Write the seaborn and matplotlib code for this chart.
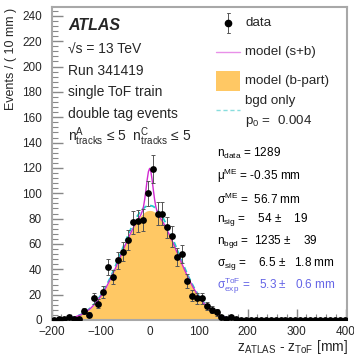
import numpy as np
import matplotlib
matplotlib.use("Agg")
import matplotlib.pyplot as plt
from matplotlib.lines import Line2D
from matplotlib.patches import Rectangle
from matplotlib.ticker import MultipleLocator
import seaborn as sns

# ---------------- data ----------------
counts = [0, 1, 1, 2, 1, 1, 7, 4, 17, 13, 22, 42, 34, 47, 54, 63, 77, 78, 79, 100,
          119, 84, 84, 73, 66, 50, 52, 31, 19, 17, 17, 11, 8, 6, 2, 1, 2, 1,
          0, 0, 0, 0, 0, 0, 0, 0, 0, 0, 0, 0, 0, 0, 0, 0, 0, 0, 0, 0, 0, 0]

x_curve = ([-200, -190, -180, -170, -160, -150, -140, -130, -120, -110, -100, -90, -80, -70, -60, -50, -40, -30]
           + [-25, -20, -17.5, -15, -12.5, -10, -7.5, -5, -2.5, 0, 2.5, 5, 7.5, 10, 12.5, 15, 17.5, 20, 25]
           + [30, 40, 50, 60, 70, 80, 90, 100, 110, 120, 130, 140, 150, 160, 170, 180, 190, 200,
              210, 220, 230, 240, 250, 260, 270, 280, 290, 300, 310, 320, 330, 340, 350, 360, 370, 380, 390, 400])

b_part = ([0.2, 0.3, 0.6, 1.0, 1.7, 2.7, 4.2, 6.4, 9.4, 13.4, 18.6, 24.9, 32.3, 40.7, 49.7, 58.9, 67.6, 75.3]
          + [78.6, 81.3, 82.5, 83.6, 84.4, 85.2, 85.8, 86.2, 86.4, 86.5, 86.4, 86.2, 85.8, 85.2, 84.4, 83.6, 82.5, 81.3, 78.6]
          + [75.3, 67.6, 58.9, 49.7, 40.7, 32.3, 24.9, 18.6, 13.4, 9.4, 6.4, 4.2, 2.7, 1.7, 1.0, 0.6, 0.3, 0.2,
             0.1, 0, 0, 0, 0, 0, 0, 0, 0, 0, 0, 0, 0, 0, 0, 0, 0, 0, 0, 0])

bgd_only = ([0.2, 0.3, 0.6, 1.0, 1.8, 2.8, 4.4, 6.7, 9.8, 14.0, 19.4, 26.0, 33.7, 42.5, 51.9, 61.5, 70.6, 78.6]
            + [82.1, 84.9, 86.1, 87.3, 88.1, 88.9, 89.6, 90.0, 90.2, 90.3, 90.2, 90.0, 89.6, 88.9, 88.1, 87.3, 86.1, 84.9, 82.1]
            + [78.6, 70.6, 61.5, 51.9, 42.5, 33.7, 26.0, 19.4, 14.0, 9.8, 6.7, 4.4, 2.8, 1.8, 1.0, 0.6, 0.3, 0.2,
               0.1, 0, 0, 0, 0, 0, 0, 0, 0, 0, 0, 0, 0, 0, 0, 0, 0, 0, 0, 0])

model_sb = ([0.2, 0.3, 0.6, 1.0, 1.7, 2.7, 4.2, 6.4, 9.4, 13.4, 18.6, 24.9, 32.3, 40.7, 49.7, 58.9, 67.6, 75.3]
            + [78.6, 81.6, 83.4, 85.9, 89.6, 95.4, 102.8, 110.8, 117.1, 119.6, 117.1, 110.8, 102.8, 95.4, 89.6, 85.9, 83.4, 81.6, 78.6]
            + [75.3, 67.6, 58.9, 49.7, 40.7, 32.3, 24.9, 18.6, 13.4, 9.4, 6.4, 4.2, 2.7, 1.7, 1.0, 0.6, 0.3, 0.2,
               0.1, 0, 0, 0, 0, 0, 0, 0, 0, 0, 0, 0, 0, 0, 0, 0, 0, 0, 0, 0])

x_ticks = [-200, -100, 0, 100, 200, 300, 400]
y_ticks = [0, 20, 40, 60, 80, 100, 120, 140, 160, 180, 200, 220, 240]

info_lines = ["√s = 13 TeV", "Run 341419", "single ToF train", "double tag events",
              r"n$^{\mathrm{A}}_{\mathrm{tracks}}$ ≤ 5  n$^{\mathrm{C}}_{\mathrm{tracks}}$ ≤ 5"]
stats_lines = [r"n$_{\mathrm{data}}$ = 1289", r"μ$^{\mathrm{ME}}$ = -0.35 mm", r"σ$^{\mathrm{ME}}$ =  56.7 mm",
               r"n$_{\mathrm{sig}}$ =    54 ±    19", r"n$_{\mathrm{bgd}}$ =  1235 ±    39",
               r"σ$_{\mathrm{sig}}$ =    6.5 ±   1.8 mm", r"σ$^{\mathrm{ToF}}_{\mathrm{exp}}$ =   5.3 ±   0.6 mm"]

# ---------------- style ----------------
sns.set_style("ticks")
plt.rcParams['font.family'] = ['Liberation Sans', 'DejaVu Sans']
plt.rcParams['mathtext.fontset'] = 'custom'
plt.rcParams['mathtext.rm'] = 'Liberation Sans'
plt.rcParams['mathtext.it'] = 'Liberation Sans:italic'
plt.rcParams['mathtext.bf'] = 'Liberation Sans:bold'
plt.rcParams['mathtext.sf'] = 'Liberation Sans'

W, H = 354, 356
fig = plt.figure(figsize=(W / 100, H / 100), dpi=100)
L, R, T, B = 51.7, 347, 7, 320
ax = fig.add_axes([L / W, 1 - B / H, (R - L) / W, (B - T) / H])

def fx(px):
    return px / W

def fy(py):
    return 1 - py / H

ORANGE = '#ffc864'
MAGENTA = '#d02ad0'
CYAN = '#22cccc'

edges = np.linspace(-200, 403, len(counts) + 1)
centers = 0.5 * (edges[:-1] + edges[1:])
cnt = np.array(counts, dtype=float)
err = np.sqrt(cnt)

ax.fill_between(x_curve, 0, b_part, color=ORANGE, lw=0, zorder=1)
sns.lineplot(x=x_curve, y=bgd_only, ax=ax, color=CYAN, lw=1.3, linestyle=(0, (3, 2)), zorder=2)
sns.lineplot(x=x_curve, y=model_sb, ax=ax, color=MAGENTA, lw=1.0, zorder=3)
ax.errorbar(centers, cnt, yerr=err, fmt='none', ecolor='#555555', elinewidth=0.7, capsize=1.5, capthick=0.7, zorder=4)
sns.scatterplot(x=centers, y=cnt, ax=ax, color='black', s=24, edgecolor='black', linewidth=0, zorder=5)

ax.set_xlim(-200, 403)
ax.set_ylim(0, 247)
ax.set_xticks(x_ticks)
ax.set_yticks(y_ticks)
ax.xaxis.set_minor_locator(MultipleLocator(20))
ax.yaxis.set_minor_locator(MultipleLocator(4))
ax.tick_params(axis='both', which='major', direction='in', length=8, width=1.0, color='#888888',
               labelsize=8.5)
ax.tick_params(axis='both', which='minor', direction='in', length=4, width=0.8, color='#888888')
ax.tick_params(axis='y', which='major', pad=7)
ax.tick_params(axis='x', which='major', pad=4)
ax.set_xlabel('')
ax.set_ylabel('')
for s in ax.spines.values():
    s.set_color('#a8a8a8')
    s.set_linewidth(1.5)

# axis labels
fig.text(fx(11), fy(8), "Events / ( 10 mm )", rotation=90, ha='center', va='top', fontsize=9)
fig.text(fx(348), fy(347), r"z$_{\mathrm{ATLAS}}$ - z$_{\mathrm{ToF}}$ [mm]", ha='right', va='center', fontsize=10)

# info text
fig.text(fx(68), fy(25), "ATLAS", fontsize=11.5, fontweight='bold', fontstyle='italic', ha='left', va='center')
for txt, py in zip(info_lines, [50, 71, 92, 114, 137]):
    fig.text(fx(68), fy(py), txt, fontsize=10, ha='left', va='center')

# legend (manual)
fs_leg = 9.6
fig.add_artist(Line2D([fx(228), fx(228)], [fy(13), fy(33)], color='#555555', lw=0.7))
fig.add_artist(Line2D([fx(226.5), fx(229.5)], [fy(13), fy(13)], color='#555555', lw=0.7))
fig.add_artist(Line2D([fx(226.5), fx(229.5)], [fy(33), fy(33)], color='#555555', lw=0.7))
fig.add_artist(Line2D([fx(228)], [fy(23)], marker='o', color='black', markersize=4.5, lw=0))
fig.text(fx(245), fy(23), "data", fontsize=fs_leg, ha='left', va='center')
fig.add_artist(Line2D([fx(216), fx(240)], [fy(52), fy(52)], color='#e890e8', lw=1.0))
fig.text(fx(245), fy(52), "model (s+b)", fontsize=fs_leg, ha='left', va='center')
fig.add_artist(Rectangle((fx(216), fy(91)), fx(24), 20 / H, color=ORANGE, lw=0))
fig.text(fx(245), fy(81), "model (b-part)", fontsize=fs_leg, ha='left', va='center')
fig.add_artist(Line2D([fx(216), fx(240)], [fy(110), fy(110)], color='#88dddd', lw=1.0, linestyle=(0, (3, 2))))
fig.text(fx(245), fy(101), "bgd only", fontsize=fs_leg, ha='left', va='center')
fig.text(fx(245), fy(121), r"p$_{0}$ =  0.004", fontsize=fs_leg, ha='left', va='center')

# stats text
for i, (txt, py) in enumerate(zip(stats_lines, [153, 176, 199, 219, 241, 263, 286])):
    col = '#6464e6' if i == len(stats_lines) - 1 else 'black'
    fig.text(fx(217), fy(py), txt, fontsize=8.5, ha='left', va='center', color=col)

fig.savefig("out.png", dpi=100)
